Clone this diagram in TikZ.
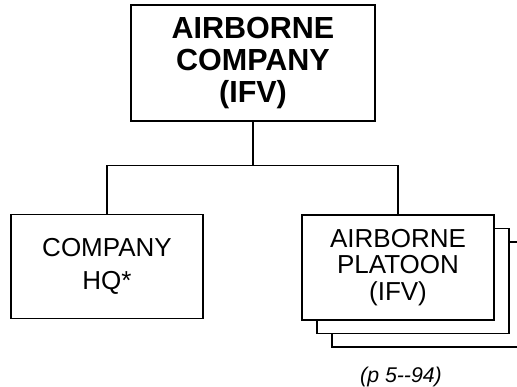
\documentclass[tikz,border=0pt]{standalone}
\usepackage{fontspec}
\setmainfont{Liberation Sans}
\usepackage{tikz}
\usetikzlibrary{positioning, calc}

\tikzset{
    unitbox/.style={draw, line width=1.4pt, fill=white, align=center,
        minimum width=192pt, minimum height=104pt, inner sep=0pt},
}

\begin{document}
\begin{tikzpicture}[x=1pt, y=1pt]
    \useasboundingbox (0,0) rectangle (517,387);
    
    % Company
    \node[unitbox, minimum width=244pt, minimum height=116pt,
        font=\bfseries\fontsize{30.5}{32}\selectfont] (coy) at (253,324)
        {AIRBORNE\\COMPANY\\(IFV)};
    
    % Headquarters
    \node[unitbox, font=\fontsize{26}{33}\selectfont] (hq) at (107,120.5)
        {COMPANY\\HQ*};
    
    % Platoons (stacked)
    \node[unitbox, minimum height=105pt] (pltc) at (428,92.5) {};
    \node[unitbox, minimum height=105pt] (pltb) at (413,106) {};
    \node[unitbox, minimum height=105pt, font=\fontsize{26}{26.5}\selectfont] (plt) at (398,119.5)
        {AIRBORNE\\PLATOON\\(IFV)};
    
    % Connectors
    \draw[line width=1.4pt] (coy.south) -- ++(0,-44) coordinate (bus);
    \draw[line width=1.4pt] (bus) -| (hq.north);
    \draw[line width=1.4pt] (bus) -| (plt.north);
    
    \node[font=\itshape\fontsize{21.3}{24}\selectfont] (ref) at (401,10) {(p 5{-}{-}94)};
\end{tikzpicture}
\end{document}
